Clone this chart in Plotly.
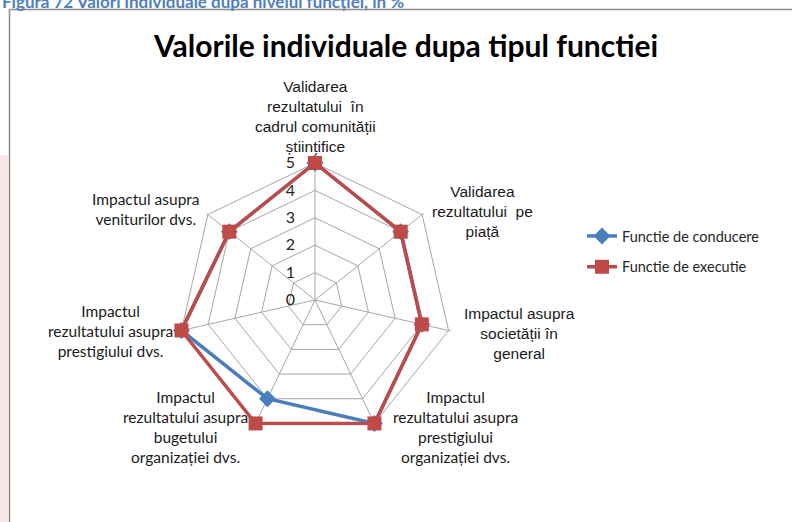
import plotly.graph_objects as go

categories = [
    "Validarea rezultatului în cadrul comunității științifice",
    "Validarea rezultatului pe piață",
    "Impactul asupra societății în general",
    "Impactul rezultatului asupra prestigiului organizației dvs.",
    "Impactul rezultatului asupra bugetului organizației dvs.",
    "Impactul rezultatului asupra prestigiului dvs.",
    "Impactul asupra veniturilor dvs.",
]
tick_labels = [
    "Validarea<br>rezultatului  în<br>cadrul comunității<br>științifice",
    "Validarea<br>rezultatului  pe<br>piață",
    "Impactul asupra<br>societății în<br>general",
    "Impactul<br>rezultatului asupra<br>prestigiului<br>organizației dvs.",
    "Impactul<br>rezultatului asupra<br>bugetului<br>organizației dvs.",
    "Impactul<br>rezultatului asupra<br>prestigiului dvs.",
    "Impactul asupra<br>veniturilor dvs.",
]
conducere = [5, 4, 4, 5, 4, 5, 4]
executie = [5, 4, 4, 5, 5, 5, 4]
radial_ticks = [0, 1, 2, 3, 4, 5]

BLUE = "#4A7EBB"
RED = "#BE4B48"

W, H = 792, 522
cx, cy, R5 = 315, 300, 137
RMAX = 5.08                       # small headroom so lines on the outer ring are not clipped
R = R5 * RMAX / 5

# label layout (pixel centres) and fonts for the category labels
label_pos = [(315, 116), (482, 211), (519, 333), (455, 427), (185, 427), (110, 331), (146, 209)]
label_font = ["Liberation Sans, Arial"] * 3 + ["Lato"] * 4
label_size = [15.5] * 7

fig = go.Figure()
fig.add_trace(go.Scatterpolar(
    r=conducere + conducere[:1], theta=categories + categories[:1],
    mode="lines+markers", name="Functie de conducere", legendgroup="a",
    line=dict(color=BLUE, width=3.5),
    marker=dict(symbol="diamond", size=13, color=BLUE),
    cliponaxis=False,
))
fig.add_trace(go.Scatterpolar(
    r=executie + executie[:1], theta=categories + categories[:1],
    mode="lines+markers", name="Functie de executie", legendgroup="b",
    line=dict(color=RED, width=3.5),
    marker=dict(symbol="square", size=14, color=RED),
    cliponaxis=False,
))

annotations = [
    dict(text="<b>Valorile individuale dupa tipul functiei</b>",
         x=405 / W, y=1 - 45 / H, xref="paper", yref="paper",
         xanchor="center", yanchor="middle",
         showarrow=False, font=dict(size=30, family="Lato", color="black")),
    dict(text="<b>Figura 72 Valori individuale după nivelul funcției, în %</b>",
         x=0, y=1 - 1 / H, xref="paper", yref="paper", xanchor="left", yanchor="middle",
         showarrow=False, font=dict(size=17, family="Lato", color="#4F81BD")),
]
for txt, (px, py), fam, sz in zip(tick_labels, label_pos, label_font, label_size):
    annotations.append(dict(
        text=txt, x=px / W, y=1 - py / H, xref="paper", yref="paper",
        xanchor="center", yanchor="middle", align="center", showarrow=False,
        font=dict(size=sz, family=fam, color="#1a1a1a"),
    ))

fig.update_layout(
    width=W, height=H,
    margin=dict(l=0, r=0, t=0, b=0),
    paper_bgcolor="white",
    font=dict(family="Lato", size=14, color="#262626"),
    polar=dict(
        domain=dict(x=[(cx - R) / W, (cx + R) / W], y=[(H - cy - R) / H, (H - cy + R) / H]),
        gridshape="linear",
        bgcolor="white",
        angularaxis=dict(
            direction="clockwise", rotation=90,
            tickmode="array", tickvals=categories, ticktext=tick_labels,
            showticklabels=False,
            showline=False,
            gridcolor="#a6a6a6", gridwidth=1, ticks="",
        ),
        radialaxis=dict(
            range=[0, RMAX], tickvals=radial_ticks, angle=90,
            showline=False, gridcolor="#a6a6a6", gridwidth=1,
            ticks="outside", ticklen=14, tickcolor="rgba(0,0,0,0)",
            side="counterclockwise",
            tickfont=dict(size=16, family="Lato", color="#262626"),
            tickangle=90,
        ),
    ),
    legend=dict(
        x=582 / W, y=1 - 220 / H, xanchor="left", yanchor="top",
        font=dict(size=14.5, family="Lato", color="#262626"),
        tracegroupgap=9, itemwidth=30,
    ),
    showlegend=True,
    annotations=annotations,
    shapes=[
        dict(type="rect", xref="paper", yref="paper",
             x0=0, x1=8 / W, y0=0, y1=1 - 155 / H,
             fillcolor="#f8e6e6", line=dict(width=0), layer="below"),
        dict(type="line", xref="paper", yref="paper",
             x0=9.5 / W, x1=1, y0=1 - 9.5 / H, y1=1 - 9.5 / H,
             line=dict(color="#8c8c8c", width=1.5)),
        dict(type="line", xref="paper", yref="paper",
             x0=9.5 / W, x1=9.5 / W, y0=0, y1=1 - 9.5 / H,
             line=dict(color="#8c8c8c", width=1.5)),
    ],
)

fig.write_html("out.html", config={"displayModeBar": False},
               post_script="document.body.style.margin='0';")
